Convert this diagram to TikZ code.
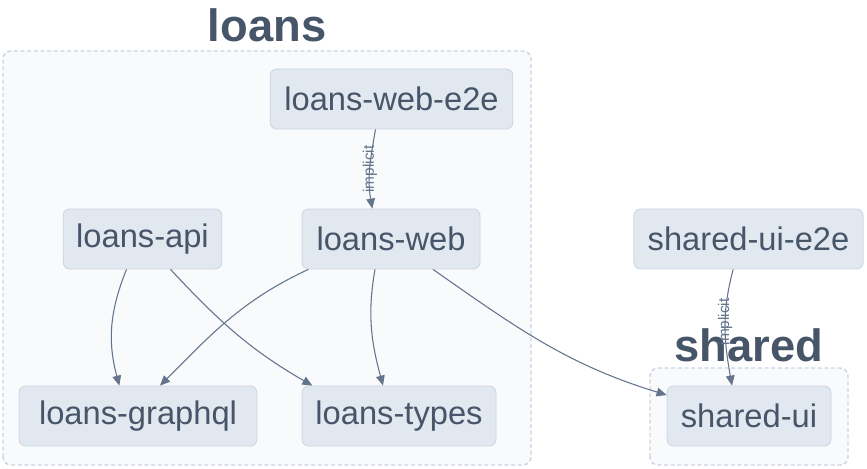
\documentclass[tikz,border=0pt]{standalone}
\usepackage{fontspec}
\setmainfont{Liberation Sans}
\usetikzlibrary{arrows.meta}

\definecolor{knoten}{HTML}{E2E8F0}
\definecolor{rand}{HTML}{CBD5E1}
\definecolor{gruppe}{HTML}{F8FAFC}
\definecolor{schrift}{HTML}{475569}
\definecolor{linie}{HTML}{64748B}

\begin{document}
\begin{tikzpicture}[x=0.75pt,y=0.75pt,
    projekt/.style={draw=rand, fill=knoten, line width=0.6pt, rounded corners=5pt,
        text=schrift, font=\fontsize{24.5}{28}\selectfont, minimum height=45pt, inner sep=0pt},
    gruppenrand/.style={draw=rand, fill=gruppe, line width=1.1pt, rounded corners=6pt,
        dash pattern=on 3pt off 2pt},
    titel/.style={text=schrift, font=\bfseries\fontsize{34}{40}\selectfont, anchor=base},
    kante/.style={draw=linie, line width=0.8pt, -{Triangle[length=7.5pt,width=6.5pt]}},
    hinweis/.style={midway, rotate=90, text=linie, font=\fontsize{11.5}{13}\selectfont}]
    % Bildgroesse festlegen
    \useasboundingbox (0,0) rectangle (867,468);

    % Gruppen
    \draw[gruppenrand] (3,3) rectangle (531,417);
    \draw[gruppenrand] (650,3) rectangle (848,100);
    \node[titel] (loans) at (267,426) {loans};
    \node[titel] (shared) at (749,107) {shared};

    % Projekte
    \node[projekt, minimum width=182pt] (webe2e) at (391.5,369) {loans-web-e2e};
    \node[projekt, minimum width=119pt] (api) at (142.5,229) {loans-api};
    \node[projekt, minimum width=133.5pt] (web) at (391,229) {loans-web};
    \node[projekt, minimum width=172pt] (sharede2e) at (748.5,229) {shared-ui-e2e};
    \node[projekt, minimum width=178.5pt] (graphql) at (138,52) {loans-graphql};
    \node[projekt, minimum width=145.5pt] (types) at (399,52) {loans-types};
    \node[projekt, minimum width=123pt] (sharedui) at (749,52) {shared-ui};

    % Abhaengigkeiten
    \draw[kante] ([xshift=-12pt]webe2e.south) to[out=-100,in=100]
        node[hinweis] {implicit} ([xshift=-14pt]web.north);
    \draw[kante] ([xshift=-12pt]api.south) to[out=-112,in=105] ([xshift=-14pt]graphql.north);
    \draw[kante] ([xshift=21pt]api.south) to[out=-47,in=150] ([xshift=-65pt]types.north);
    \draw[kante] ([xshift=-62pt]web.south) to[out=-155,in=45] ([xshift=16.5pt]graphql.north);
    \draw[kante] ([xshift=-12pt]web.south) to[out=-100,in=105] ([xshift=-12pt]types.north);
    \draw[kante] ([xshift=31.5pt]web.south) to[out=-35,in=163] ([yshift=15.75pt]sharedui.west);
    \draw[kante] ([xshift=-11.5pt]sharede2e.south) to[out=-105,in=100]
        node[hinweis, pos=0.45] {implicit} ([xshift=-12.75pt]sharedui.north);
\end{tikzpicture}
\end{document}
